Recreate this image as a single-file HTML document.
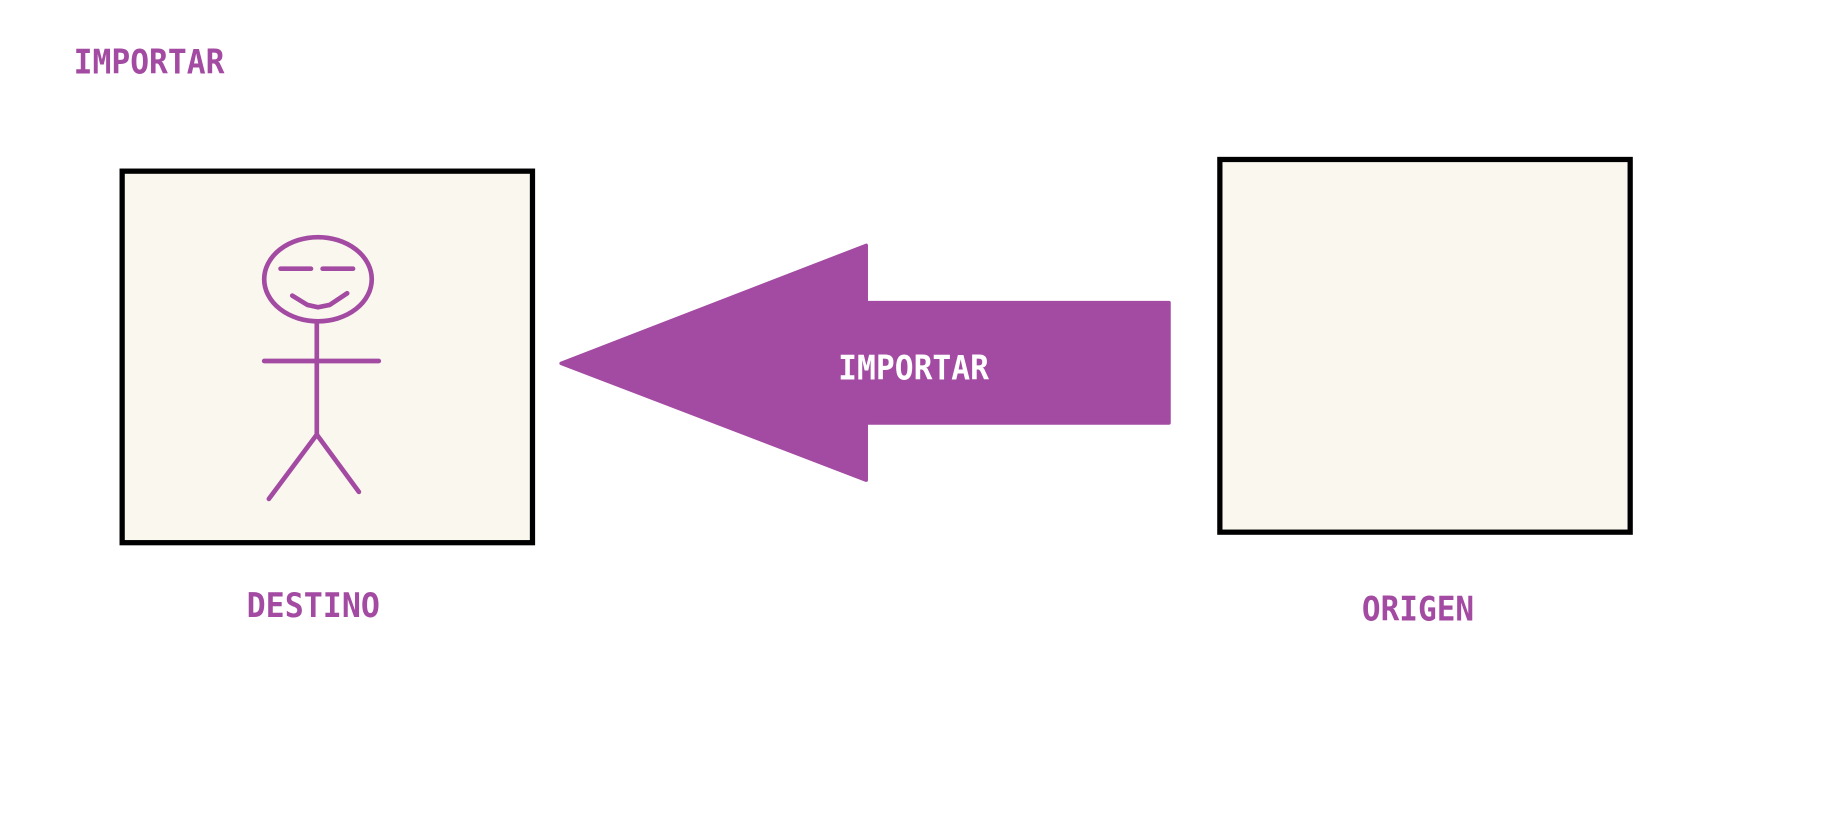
<!DOCTYPE html>
<html><head><meta charset="utf-8"><style>
html,body{margin:0;padding:0;background:#fff;width:1833px;height:819px;overflow:hidden}
svg{display:block}
text{font-family:"DejaVu Sans Mono","Liberation Mono",monospace;font-weight:bold}
</style></head><body>
<svg width="1833" height="819" viewBox="0 0 1568 701" preserveAspectRatio="none">
<text x="63" y="63" font-size="29" fill="#a34aa2" textLength="129" lengthAdjust="spacingAndGlyphs">IMPORTAR</text>
<rect x="104.5" y="146.5" width="351" height="318" fill="#faf8ee" stroke="#000" stroke-width="4.5"/>
<rect x="1043.5" y="136.5" width="351" height="319" fill="#faf8ee" stroke="#000" stroke-width="4.5"/>
<polygon points="480,311 741,210 741,259 1000,259 1000,362 741,362 741,411" fill="#a34aa2" stroke="#a34aa2" stroke-width="3" stroke-linejoin="round"/>
<text x="717" y="325" font-size="29" fill="#fff" textLength="129" lengthAdjust="spacingAndGlyphs">IMPORTAR</text>
<g stroke="#a34aa2" stroke-width="4" fill="none" stroke-linecap="round">
<ellipse cx="272" cy="239" rx="46" ry="36"/>
<line x1="240" y1="230" x2="266" y2="230"/>
<line x1="276" y1="230" x2="302" y2="230"/>
<polyline points="250,253 263,261 272,263 282,261 297,251"/>
<line x1="271" y1="276" x2="271" y2="372"/>
<line x1="226" y1="309" x2="324" y2="309"/>
<line x1="271" y1="372" x2="230" y2="427"/>
<line x1="271" y1="372" x2="307" y2="421"/>
</g>
<text x="211" y="528" font-size="29" fill="#a34aa2" textLength="114" lengthAdjust="spacingAndGlyphs">DESTINO</text>
<text x="1165" y="531" font-size="29" fill="#a34aa2" textLength="96" lengthAdjust="spacingAndGlyphs">ORIGEN</text>
</svg>
</body></html>
